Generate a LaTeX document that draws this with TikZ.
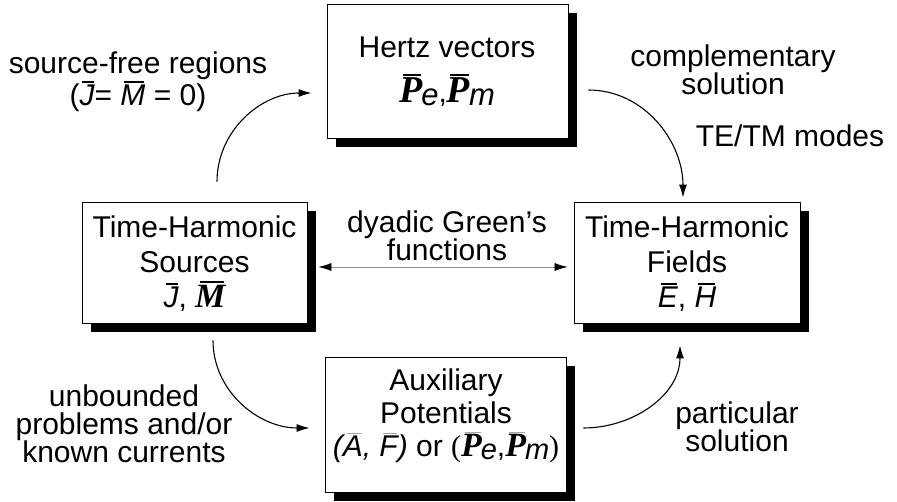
\documentclass[tikz,border=0pt]{standalone}
\usepackage{fontspec}
\setmainfont{Liberation Sans}
\newfontfamily\tnr{Liberation Serif}
\usetikzlibrary{arrows.meta,shadows,calc}
\newsavebox\obx
\newcommand\ob[1]{\sbox\obx{#1}\rlap{\kern0.15\wd\obx\raisebox{\dimexpr\ht\obx+2.5pt\relax}{\rule{0.8\wd\obx}{1.8pt}}}\usebox\obx}
\newcommand\obthin[1]{\sbox\obx{#1}\rlap{\kern0.2\wd\obx\raisebox{\dimexpr\ht\obx+2pt\relax}{\color{black!35}\rule{0.75\wd\obx}{0.8pt}}}\usebox\obx}
\newcommand\bigP{\tnr\bfseries\itshape\fontsize{38}{38}\selectfont}
\newcommand\midP{\tnr\bfseries\itshape\fontsize{34}{34}\selectfont}
\newcommand\PV[1]{\ob{{\bigP P}}\kern-1pt\raisebox{-3pt}{\fontsize{31}{31}\selectfont\itshape #1}}
\newcommand\PVs[1]{\obthin{{\midP P}}\kern-1pt\raisebox{-3pt}{\fontsize{29}{29}\selectfont\itshape #1}}
\begin{document}
\begin{tikzpicture}[x=1pt,y=1pt]
\tikzset{
  box/.style={draw=black, line width=0.8pt, fill=white, inner sep=0pt,
    drop shadow={shadow xshift=9pt,shadow yshift=-9pt,fill=black,opacity=1}},
  lbl/.style={align=center, inner sep=0pt, font=\fontsize{30}{28}\selectfont},
  boxtxt/.style={align=center, inner sep=0pt, font=\fontsize{30}{35}\selectfont},
  conn/.style={line width=1.1pt, -{Latex[length=13pt,width=8pt]}},
  dconn/.style={line width=0.7pt, draw=black!45, {Latex[length=13pt,width=8pt,color=black]}-{Latex[length=13pt,width=8pt,color=black]}}
}
\useasboundingbox (0,0) rectangle (897,502);
% boxes
\node[box, minimum width=241pt, minimum height=134pt] (hertz) at (447.5,431) {};
\node[box, minimum width=225pt, minimum height=121pt] (src) at (194.5,239.5) {};
\node[box, minimum width=226pt, minimum height=121pt] (fld) at (687,239.5) {};
\node[box, minimum width=241pt, minimum height=135pt] (aux) at (445.5,77.5) {};
% box texts
\node[boxtxt] (hertzT) at (447,430) {Hertz vectors\\[10pt]\PV{e},\PV{m}};
\node[boxtxt] (srcT) at (194.5,238) {Time-Harmonic\\Sources\\\ob{\itshape J}, \ob{\midP M}};
\node[boxtxt] (fldT) at (687,238) {Time-Harmonic\\Fields\\\ob{\itshape E}, \ob{\itshape H}};
\node[boxtxt, font=\fontsize{30}{33}\selectfont] (auxT) at (446,86) {Auxiliary\\Potentials\\{\itshape(\obthin{A}, \obthin{F})} or {\tnr(}\PVs{e},\PVs{m}{\tnr)}};
% labels
\node[lbl] (sfree) at (138,420) {source-free regions\\(\ob{\itshape J}= \ob{\itshape M} = 0)};
\node[lbl] (compl) at (733,432) {complementary\\solution};
\node[lbl] (temm) at (790,366) {TE/TM modes};
\node[lbl] (dyad) at (447,266) {dyadic Green's\\functions};
\node[lbl] (unb) at (124,78) {unbounded\\problems and/or\\known currents};
\node[lbl] (part) at (737,75) {particular\\solution};
% connectors
\draw[conn] ($(src.north)+(22.5,20)$) to[out=90,in=180] ($(hertz.west)+(-15,-22)$);
\draw[conn] ($(hertz.east)+(20,-19)$) to[out=0,in=90] ($(fld.north)+(-4,4)$);
\draw[dconn] ($(src.east)+(11,-4.5)$) -- ($(fld.west)+(-6,-4.5)$);
\draw[conn] ($(src.south)+(18.5,-17)$) to[out=-90,in=180] ($(aux.west)+(-15,-3.5)$);
\draw[conn] ($(aux.east)+(17,-3.5)$) to[out=0,in=-90] ($(fld.south)+(-7,-22)$);
\end{tikzpicture}
\end{document}
